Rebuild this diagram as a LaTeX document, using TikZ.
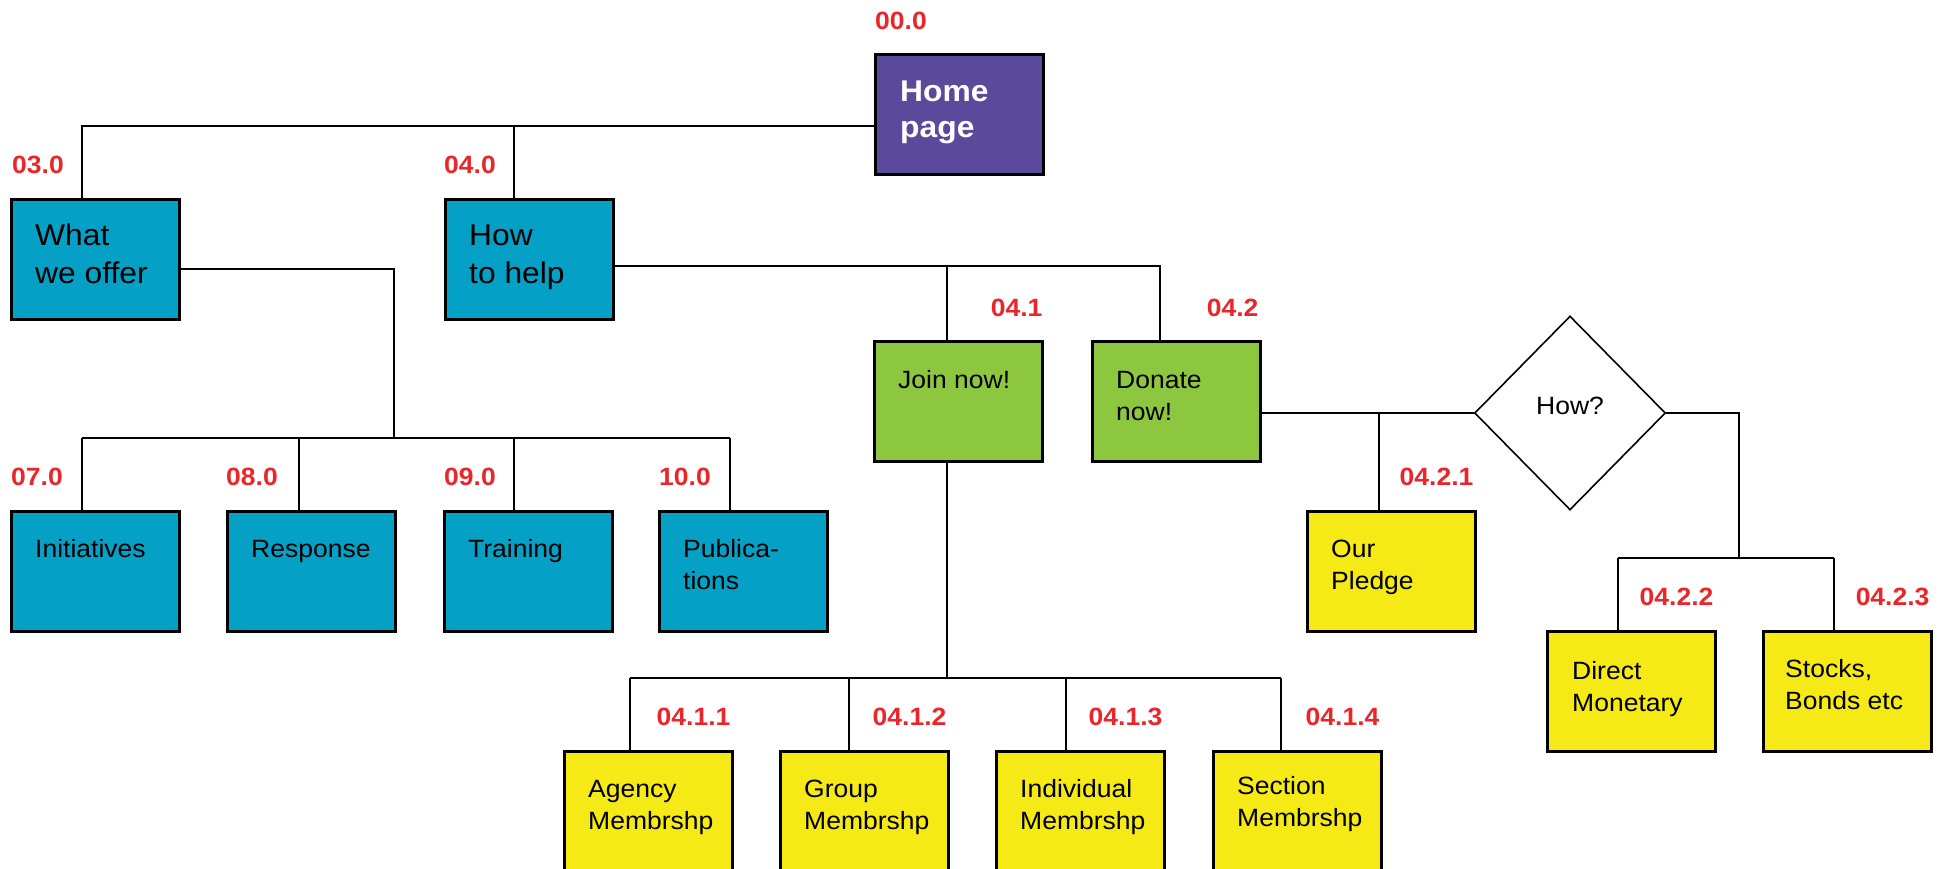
\documentclass[tikz,border=0pt]{standalone}
\usepackage{fontspec}
\setmainfont{Liberation Sans}[FakeStretch=1.06]
\usetikzlibrary{calc,shapes.geometric}

\definecolor{homepurple}{RGB}{91,74,155}
\definecolor{secblue}{RGB}{4,160,198}
\definecolor{actgreen}{RGB}{141,199,63}
\definecolor{leafyellow}{RGB}{245,234,22}
\definecolor{numred}{RGB}{234,38,42}

\tikzset{
  box/.style={draw=black, line width=2.6pt, minimum width=168pt, minimum height=120pt,
              inner sep=0pt, anchor=north west},
  lowbox/.style={box, minimum height=135pt},
  tx/.style={anchor=base west, align=left, inner sep=0pt,
             font=\fontsize{25}{32.5}\selectfont},
  % two-line texts: the base anchor sits on the last line
  txtwo/.style={tx, yshift=-32.5pt},
  txbig/.style={tx, yshift=-38pt, font=\fontsize{30}{38}\selectfont},
  txhome/.style={tx, yshift=-36pt, text=white, font=\bfseries\fontsize{30}{36}\selectfont},
  num/.style={text=numred, inner sep=0pt, font=\bfseries\fontsize{25}{30}\selectfont},
  numl/.style={num, anchor=base west},
  numr/.style={num, anchor=base east},
  link/.style={draw=black, line width=1.6pt},
}

\begin{document}
\begin{tikzpicture}[x=1pt, y=-1pt]
\fill[white] (0,0) rectangle (1950,869);
\useasboundingbox (0,0) rectangle (1950,869);

% ---- page boxes ----
\node[box, fill=homepurple] (home) at (874,53) {};
\node[box, fill=secblue] (what) at (10,198) {};
\node[box, fill=secblue] (how) at (444,198) {};
\node[box, fill=secblue] (init) at (10,510) {};
\node[box, fill=secblue] (resp) at (226,510) {};
\node[box, fill=secblue] (train) at (443,510) {};
\node[box, fill=secblue] (pub) at (658,510) {};
\node[box, fill=actgreen] (join) at (873,340) {};
\node[box, fill=actgreen] (donate) at (1091,340) {};
\node[box, fill=leafyellow] (pledge) at (1306,510) {};
\node[lowbox, fill=leafyellow] (agency) at (563,750) {};
\node[lowbox, fill=leafyellow] (group) at (779,750) {};
\node[lowbox, fill=leafyellow] (indiv) at (995,750) {};
\node[lowbox, fill=leafyellow] (section) at (1212,750) {};
\node[box, fill=leafyellow] (direct) at (1546,630) {};
\node[box, fill=leafyellow] (stocks) at (1762,630) {};

\node[diamond, draw=black, line width=1.6pt, minimum width=191pt, minimum height=194pt,
      inner sep=0pt] (how2) at (1570,413) {};
\node[tx, anchor=base] (how2T) at ($(how2.center)+(0,1)$) {How?};

% ---- box texts ----
\node[txhome] (homeT) at ($(home.north west)+(26,49)$) {Home\\page};
\node[txbig] (whatT) at ($(what.north west)+(25,47)$) {What\\we offer};
\node[txbig] (howT) at ($(how.north west)+(25,47)$) {How\\to help};
\node[tx] (initT) at ($(init.north west)+(25,47)$) {Initiatives};
\node[tx] (respT) at ($(resp.north west)+(25,47)$) {Response};
\node[tx] (trainT) at ($(train.north west)+(25,47)$) {Training};
\node[txtwo] (pubT) at ($(pub.north west)+(25,47)$) {Publica-\\tions};
\node[tx] (joinT) at ($(join.north west)+(25,48)$) {Join now!};
\node[txtwo] (donateT) at ($(donate.north west)+(25,48)$) {Donate\\now!};
\node[txtwo] (pledgeT) at ($(pledge.north west)+(25,47)$) {Our\\Pledge};
\node[txtwo] (agencyT) at ($(agency.north west)+(25,47)$) {Agency\\Membrshp};
\node[txtwo] (groupT) at ($(group.north west)+(25,47)$) {Group\\Membrshp};
\node[txtwo] (indivT) at ($(indiv.north west)+(25,47)$) {Individual\\Membrshp};
\node[txtwo] (sectionT) at ($(section.north west)+(25,44)$) {Section\\Membrshp};
\node[txtwo] (directT) at ($(direct.north west)+(26,49)$) {Direct\\Monetary};
\node[txtwo] (stocksT) at ($(stocks.north west)+(23,47)$) {Stocks,\\Bonds etc};

% ---- page numbers ----
\node[numl] (n00) at ($(home.north west)+(1,-23)$) {00.0};
\node[numl] (n03) at ($(what.north west)+(2,-24)$) {03.0};
\node[numl] (n04) at ($(how.north west)+(0,-24)$) {04.0};
\node[numl] (n07) at ($(init.north west)+(1,-25)$) {07.0};
\node[numl] (n08) at ($(resp.north west)+(0,-25)$) {08.0};
\node[numl] (n09) at ($(train.north west)+(1,-25)$) {09.0};
\node[numl] (n10) at ($(pub.north west)+(1,-25)$) {10.0};
\node[numr] (n41) at ($(join.north east)+(-1,-24)$) {04.1};
\node[numr] (n42) at ($(donate.north east)+(-3,-24)$) {04.2};
\node[numr] (n421) at ($(pledge.north east)+(-3,-25)$) {04.2.1};
\node[numr] (n411) at ($(agency.north east)+(-3,-25)$) {04.1.1};
\node[numr] (n412) at ($(group.north east)+(-3,-25)$) {04.1.2};
\node[numr] (n413) at ($(indiv.north east)+(-3,-25)$) {04.1.3};
\node[numr] (n414) at ($(section.north east)+(-3,-25)$) {04.1.4};
\node[numr] (n422) at ($(direct.north east)+(-3,-25)$) {04.2.2};
\node[numr] (n423) at ($(stocks.north east)+(-3,-25)$) {04.2.3};

% ---- connector junctions ----
\coordinate (c0) at (82,126);
\coordinate (c1) at (514,126);
\coordinate (c2) at (394,269);
\coordinate (b1l) at (82,438);
\coordinate (b1r) at (730,438);
\coordinate (d08) at (299,438);
\coordinate (d09) at (514,438);
\coordinate (c3) at (1160,266);
\coordinate (d41) at (947,266);
\coordinate (c4) at (947,678);
\coordinate (b2l) at (630,678);
\coordinate (b2r) at (1281,678);
\coordinate (d412) at (849,678);
\coordinate (d413) at (1066,678);
\coordinate (c5) at (1379,413);
\coordinate (c6) at (1739,413);
\coordinate (b3l) at (1618,558);
\coordinate (b3r) at (1834,558);

% ---- connectors ----
% home page to first level
\draw[link] (home.west |- c0) -- (c0) -- (c0 |- what.north);
\draw[link] (c1) -- (c1 |- how.north);
% what we offer to its children
\draw[link] (what.east |- c2) -- (c2) -- (c2 |- b1l);
\draw[link] (b1l) -- (b1r);
\draw[link] (b1l) -- (b1l |- init.north);
\draw[link] (d08) -- (d08 |- resp.north);
\draw[link] (d09) -- (d09 |- train.north);
\draw[link] (b1r) -- (b1r |- pub.north);
% how to help
\draw[link] (how.east |- c3) -- (c3) -- (c3 |- donate.north);
\draw[link] (d41) -- (d41 |- join.north);
% join now
\draw[link] (c4 |- join.south) -- (c4);
\draw[link] (b2l) -- (b2r);
\draw[link] (b2l) -- (b2l |- agency.north);
\draw[link] (d412) -- (d412 |- group.north);
\draw[link] (d413) -- (d413 |- indiv.north);
\draw[link] (b2r) -- (b2r |- section.north);
% donate now
\draw[link] (donate.east |- how2.west) -- (how2.west);
\draw[link] (c5) -- (c5 |- pledge.north);
\draw[link] (how2.east) -- (c6) -- (c6 |- b3l);
\draw[link] (b3l) -- (b3r);
\draw[link] (b3l) -- (b3l |- direct.north);
\draw[link] (b3r) -- (b3r |- stocks.north);
\end{tikzpicture}
\end{document}
